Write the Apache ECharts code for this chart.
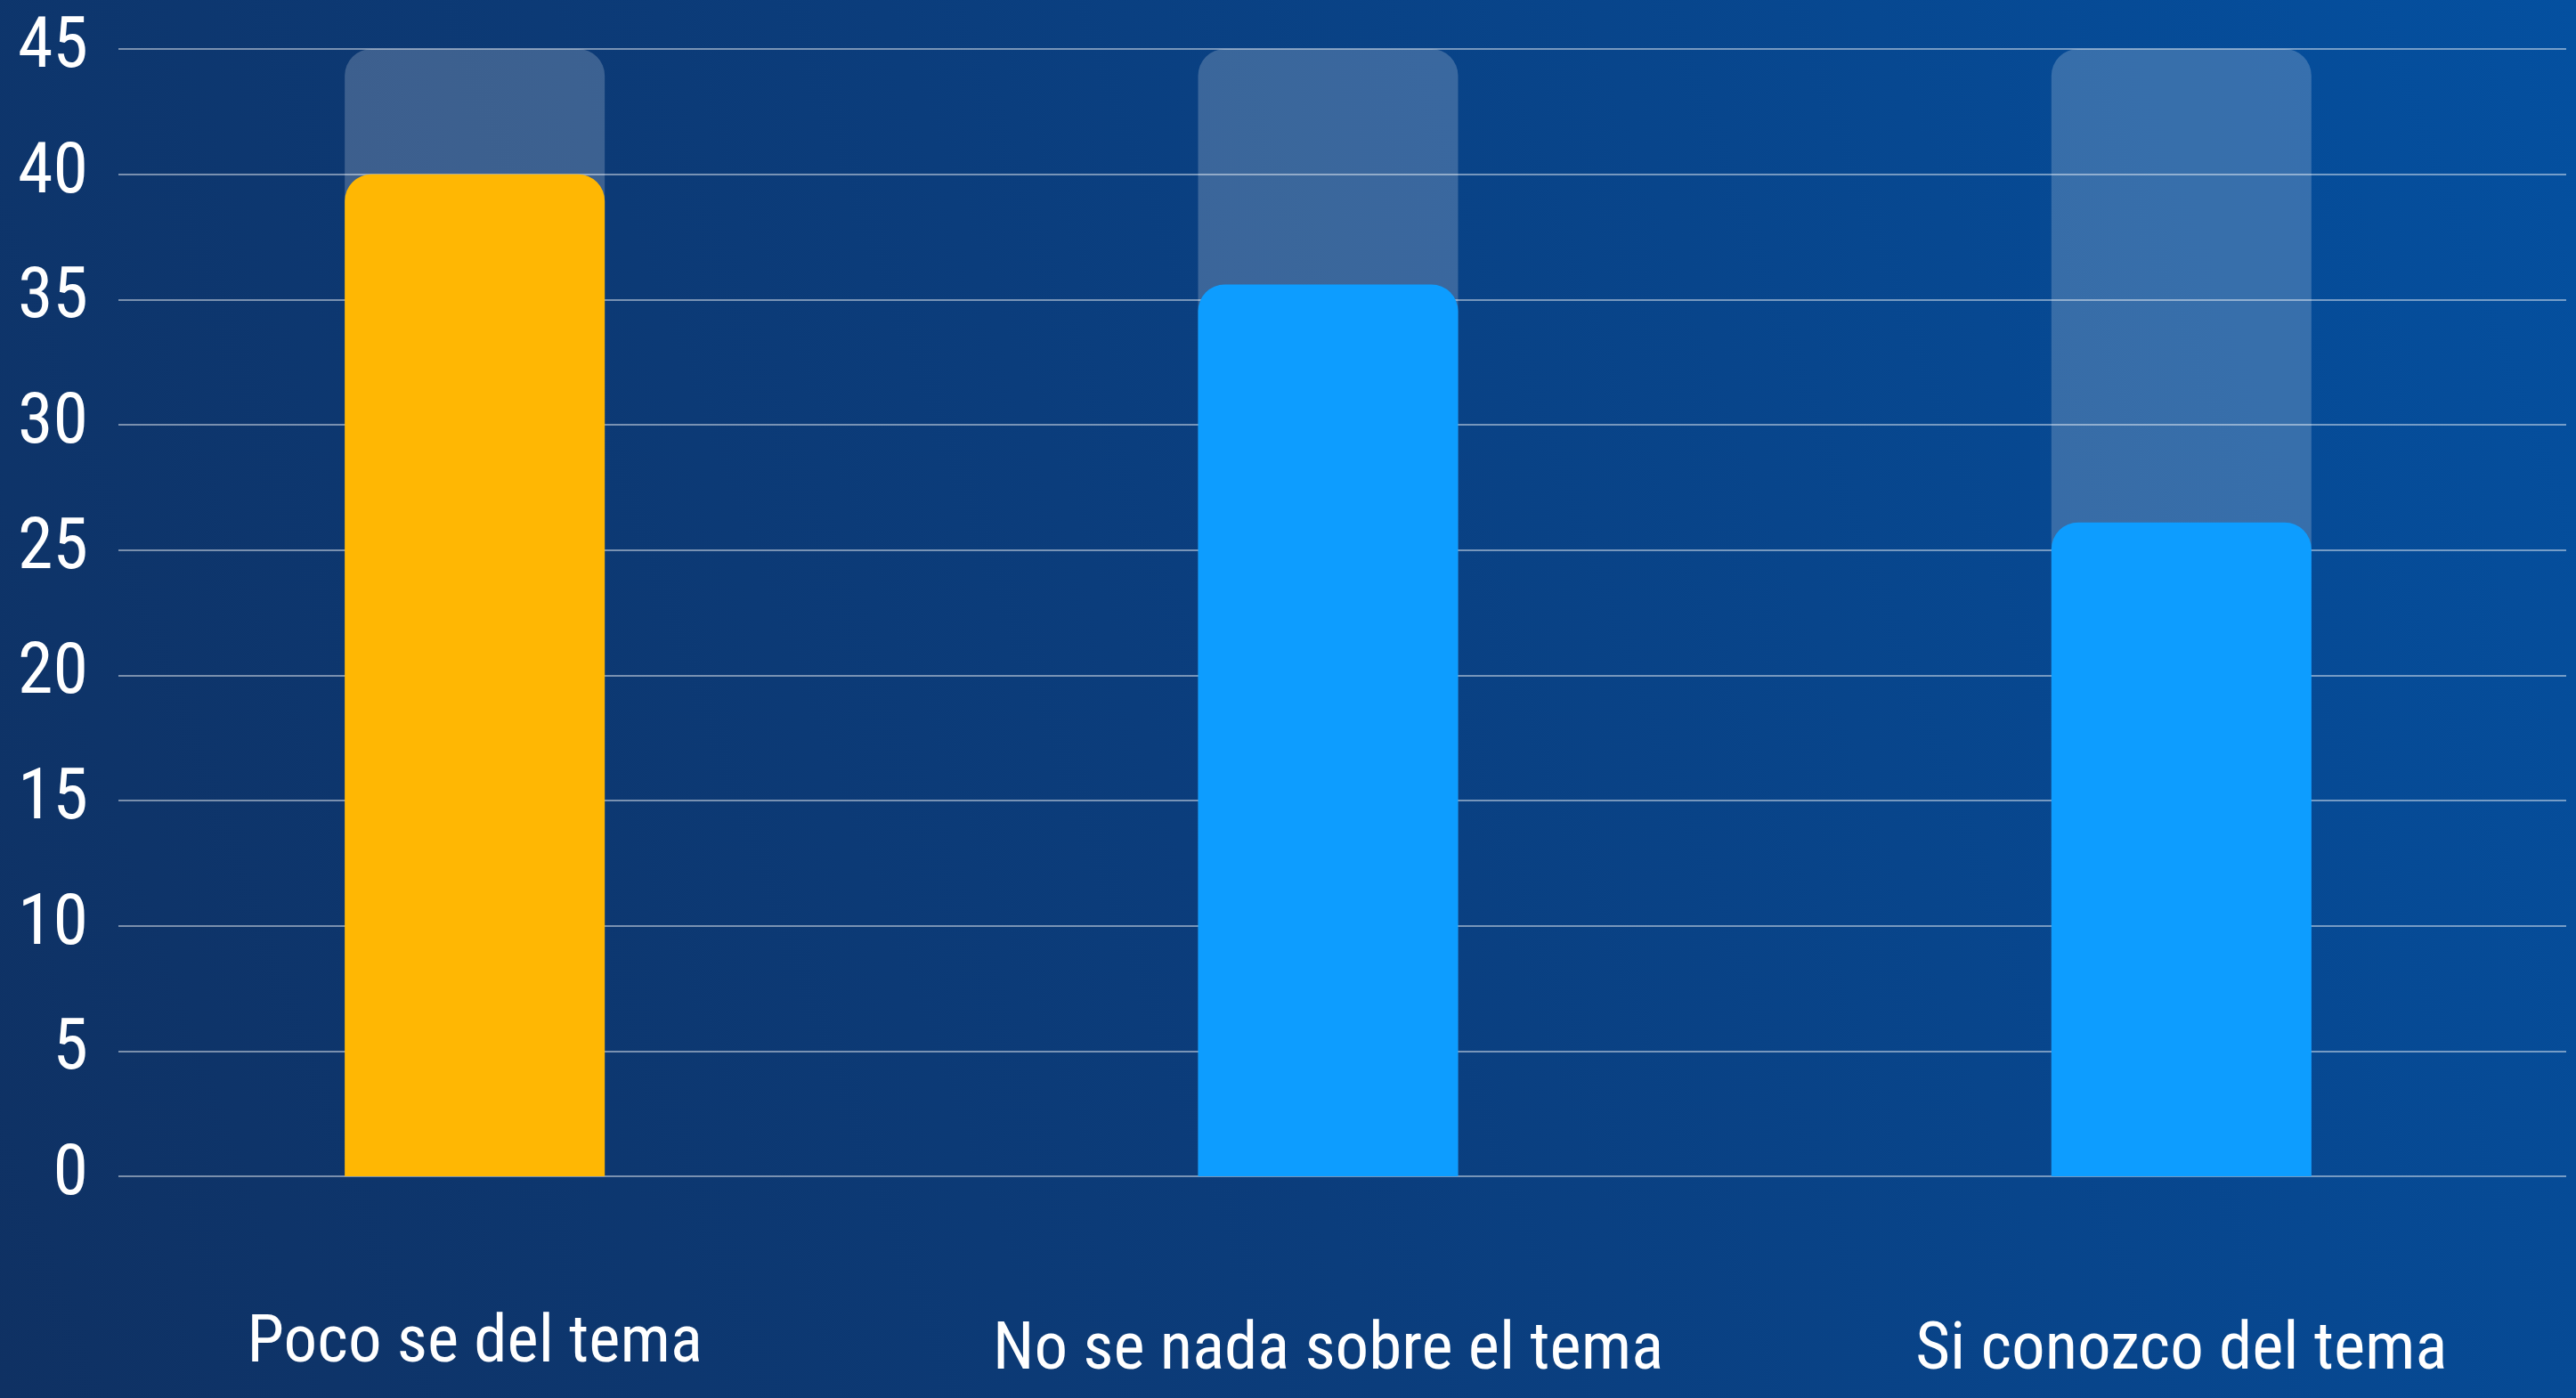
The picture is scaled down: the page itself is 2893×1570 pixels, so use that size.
<!DOCTYPE html>
<html>
<head>
<meta charset="utf-8">
<script src="https://cdn.jsdelivr.net/npm/echarts@6/dist/echarts.min.js"></script>
<style>
  html, body { margin: 0; padding: 0; width: 2893px; height: 1570px; overflow: hidden; }
  #chart { width: 2893px; height: 1570px;
    background: linear-gradient(70deg, #0f3163 0%, #0b3d7c 45%, #0450a0 100%); }
</style>
</head>
<body>
<div id="chart"></div>
<script>
const categories = ['Poco se del tema', 'No se nada sobre el tema', 'Si conozco del tema'];
const values = [40, 35.6, 26.1];
const barColors = ['#FFB703', '#0D9DFF', '#0D9DFF'];
const yTicks = { min: 0, max: 45, interval: 5 };

const FONT = '"Roboto Condensed", "Liberation Sans Narrow", sans-serif';

const chart = echarts.init(document.getElementById('chart'), null, { renderer: 'canvas' });
chart.setOption({
  backgroundColor: 'transparent',
  animation: false,
  grid: [
    { left: 133, right: 11, top: 55, bottom: 249, outerBoundsMode: 'none' },
    { left: 54, width: 2875, top: 55, bottom: 249, outerBoundsMode: 'none' }
  ],
  xAxis: [
    { type: 'category', gridIndex: 0, data: categories, show: false },
    {
      type: 'category', gridIndex: 1, data: categories,
      axisLine: { show: false }, axisTick: { show: false },
      axisLabel: {
        margin: 152,
        interval: 0,
        color: '#ffffff',
        fontFamily: FONT,
        fontSize: 75,
        formatter: function (v, i) { return i === 0 ? '{a|' + v + '}' : '{b|' + v + '}'; },
        rich: {
          a: { color: '#ffffff', fontFamily: FONT, fontSize: 75 },
          b: { color: '#ffffff', fontFamily: FONT, fontSize: 75, padding: [8, 0, 0, 0] }
        }
      }
    }
  ],
  yAxis: [
    {
      type: 'value', gridIndex: 0, min: yTicks.min, max: yTicks.max, interval: yTicks.interval,
      axisLine: { show: false }, axisTick: { show: false },
      axisLabel: { margin: 34, color: '#ffffff', fontFamily: FONT, fontSize: 80 },
      splitLine: { show: true, lineStyle: { color: 'rgba(255,255,255,0.45)', width: 2 } }
    },
    {
      type: 'value', gridIndex: 1, min: yTicks.min, max: yTicks.max, interval: yTicks.interval,
      show: false, splitLine: { show: false }
    }
  ],
  series: [{
    type: 'bar',
    xAxisIndex: 1, yAxisIndex: 1,
    barWidth: 292,
    showBackground: true,
    backgroundStyle: { color: 'rgba(255,255,255,0.2)', borderRadius: [30, 30, 0, 0] },
    data: values.map((v, i) => ({
      value: v,
      itemStyle: { color: barColors[i], borderRadius: [30, 30, 0, 0] }
    }))
  }]
});
</script>
</body>
</html>
